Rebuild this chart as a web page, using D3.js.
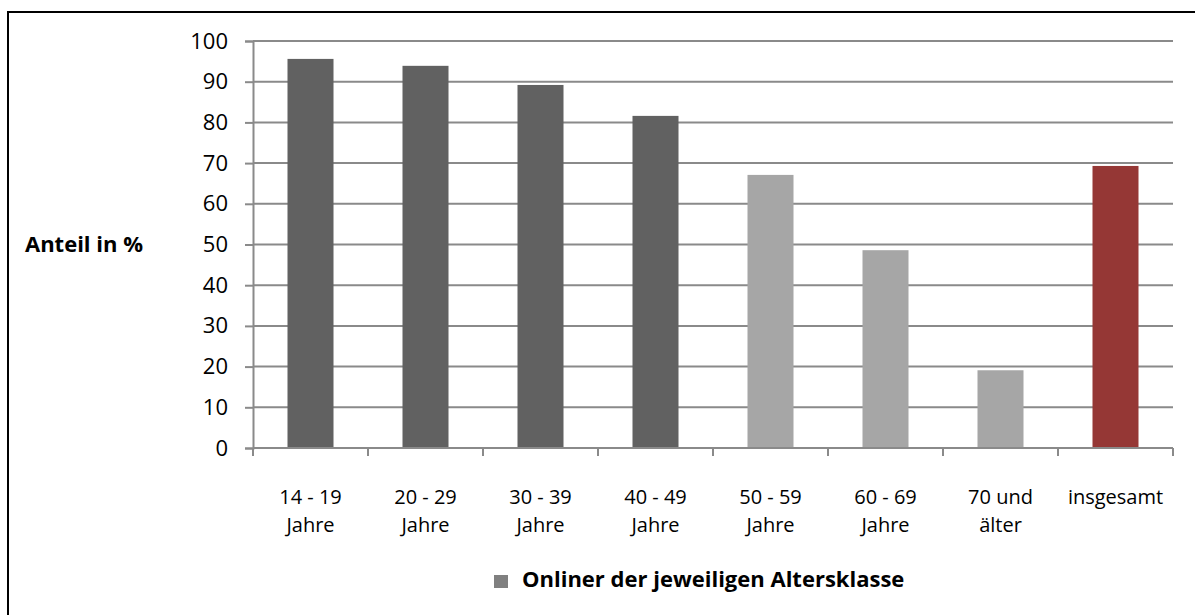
<!DOCTYPE html>
<html>
<head>
<meta charset="utf-8">
<script src="https://cdnjs.cloudflare.com/ajax/libs/d3/7.8.5/d3.min.js"></script>
<style>
  body { margin: 0; background: #fff; }
  svg { display: block; font-family: "Open Sans", sans-serif; }
</style>
</head>
<body>
<svg width="1195" height="615"></svg>
<script>
var categories = [["14 - 19", "Jahre"], ["20 - 29", "Jahre"], ["30 - 39", "Jahre"], ["40 - 49", "Jahre"],
                  ["50 - 59", "Jahre"], ["60 - 69", "Jahre"], ["70 und", "älter"], ["insgesamt"]];
var values = [95.6, 93.9, 89.2, 81.6, 67.1, 48.6, 19.1, 69.3];
var groups = ["young", "young", "young", "young", "old", "old", "old", "total"];
var yTicks = [0, 10, 20, 30, 40, 50, 60, 70, 80, 90, 100];
var yTitle = "Anteil in %";
var legendLabel = "Onliner der jeweiligen Altersklasse";

var svg = d3.select("svg");

var colors = { young: "#616161", old: "#a6a6a6", total: "#953735" };

// outer frame (runs off right and bottom like the original)
svg.append("rect")
    .attr("x", 8).attr("y", 12)
    .attr("width", 1300).attr("height", 800)
    .attr("fill", "none")
    .attr("stroke", "#000")
    .attr("stroke-width", 2);

var x = d3.scaleBand()
    .domain(d3.range(categories.length))
    .range([253, 1173])
    .paddingInner(0.6)
    .paddingOuter(0.3);

var band = d3.scaleBand()
    .domain(d3.range(categories.length))
    .range([253, 1173]);

var y = d3.scaleLinear()
    .domain([0, 100])
    .range([448, 41]);

// gridlines
svg.append("g")
    .selectAll("line")
    .data(yTicks)
    .enter().append("line")
    .attr("x1", 253).attr("x2", 1173)
    .attr("y1", function (d) { return y(d); })
    .attr("y2", function (d) { return y(d); })
    .attr("stroke", "#8a8a8a")
    .attr("stroke-width", 2);

// y axis
var yAxis = svg.append("g")
    .attr("transform", "translate(253,0)")
    .call(d3.axisLeft(y).tickValues(yTicks).tickSize(8).tickPadding(17));
yAxis.select(".domain").attr("stroke", "#8a8a8a").attr("stroke-width", 2);
yAxis.selectAll(".tick line").attr("stroke", "#8a8a8a").attr("stroke-width", 2);
yAxis.selectAll("text")
    .attr("font-size", "22px")
    .attr("font-family", "Open Sans")
    .attr("fill", "#000");

// bars
svg.append("g")
    .selectAll("rect")
    .data(values)
    .enter().append("rect")
    .attr("x", function (d, i) { return x(i); })
    .attr("width", x.bandwidth())
    .attr("y", function (d) { return y(d); })
    .attr("height", function (d) { return y(0) - y(d); })
    .attr("fill", function (d, i) { return colors[groups[i]]; });

// x axis line + ticks
svg.append("line")
    .attr("x1", 253).attr("x2", 1173)
    .attr("y1", y(0)).attr("y2", y(0))
    .attr("stroke", "#8a8a8a").attr("stroke-width", 2);

svg.append("g")
    .selectAll("line")
    .data(d3.range(categories.length + 1))
    .enter().append("line")
    .attr("x1", function (i) { return i < categories.length ? band(i) : band.range()[1]; })
    .attr("x2", function (i) { return i < categories.length ? band(i) : band.range()[1]; })
    .attr("y1", y(0)).attr("y2", y(0) + 8)
    .attr("stroke", "#8a8a8a").attr("stroke-width", 2);

// category labels
var labels = svg.append("g")
    .selectAll("text")
    .data(categories)
    .enter().append("text")
    .attr("text-anchor", "middle")
    .attr("font-size", "20px")
    .attr("fill", "#000")
    .attr("transform", function (d, i) {
        return "translate(" + (band(i) + band.bandwidth() / 2) + ",0)";
    });

labels.selectAll("tspan")
    .data(function (d) { return d; })
    .enter().append("tspan")
    .attr("x", 0)
    .attr("y", function (d, j) { return 504 + j * 28; })
    .text(function (d) { return d; });

// y title
svg.append("text")
    .attr("x", 143)
    .attr("y", 252)
    .attr("text-anchor", "end")
    .attr("font-size", "22px")
    .attr("font-weight", "bold")
    .attr("fill", "#000")
    .text(yTitle);

// legend
svg.append("rect")
    .attr("x", 494).attr("y", 575)
    .attr("width", 14).attr("height", 13)
    .attr("fill", "#808080");

svg.append("text")
    .attr("x", 522)
    .attr("y", 587)
    .attr("font-size", "22px")
    .attr("font-weight", "bold")
    .attr("fill", "#000")
    .text(legendLabel);
</script>
</body>
</html>
